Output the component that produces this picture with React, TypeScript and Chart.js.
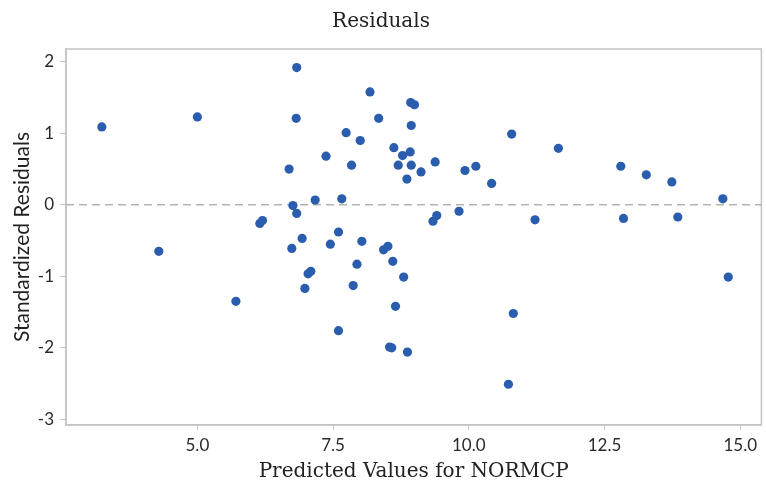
import React, { useEffect, useRef } from 'react';
import { Chart, registerables } from 'chart.js';

Chart.register(...registerables);

const predicted = [
  3.24, 5.0, 6.83, 6.82, 6.69, 6.76, 6.83, 6.15, 6.2, 8.18,
  8.93, 9.0, 8.34, 8.94, 7.74, 8.0, 7.37, 8.62, 8.78, 8.92,
  7.84, 8.7, 8.94, 9.38, 9.12, 8.86, 9.93, 10.13, 7.17, 7.66,
  9.34, 9.41, 9.82, 10.42, 10.79, 11.65, 12.8, 13.27, 13.74, 14.68,
  11.22, 12.85, 13.85, 4.29, 5.71, 6.74, 6.93, 7.6, 7.45, 8.03,
  8.43, 8.51, 8.6, 7.94, 8.8, 7.04, 7.09, 6.98, 7.87, 8.65,
  7.6, 8.54, 8.58, 8.87, 14.78, 10.82, 10.73,
];
const residuals = [
  1.09, 1.23, 1.92, 1.21, 0.5, -0.01, -0.12, -0.26, -0.22, 1.58,
  1.43, 1.4, 1.21, 1.11, 1.01, 0.9, 0.68, 0.8, 0.69, 0.74,
  0.555, 0.555, 0.555, 0.6, 0.46, 0.36, 0.48, 0.54, 0.066, 0.084,
  -0.23, -0.15, -0.09, 0.3, 0.99, 0.79, 0.54, 0.42, 0.32, 0.084,
  -0.21, -0.19, -0.17, -0.65, -1.35, -0.61, -0.47, -0.38, -0.55, -0.51,
  -0.63, -0.58, -0.79, -0.83, -1.01, -0.965, -0.93, -1.17, -1.13, -1.42,
  -1.76, -1.99, -2.0, -2.06, -1.01, -1.52, -2.51,
];
const xTicks = [5.0, 7.5, 10.0, 12.5, 15.0];
const yTicks = [-3, -2, -1, 0, 1, 2];

const SERIF = "'DejaVu Serif', 'Liberation Serif', serif";
const SANS = "Lato, 'Open Sans', sans-serif";

const framePlugin = {
  id: 'frameAndZero',
  beforeDatasetsDraw(chart: any) {
    const { ctx, chartArea, scales } = chart;
    const { left, right, top, bottom } = chartArea;
    ctx.save();
    ctx.strokeStyle = '#c4c4c4';
    ctx.lineWidth = 1.5;
    ctx.strokeRect(left, top, right - left, bottom - top);
    const y0 = scales.y.getPixelForValue(0);
    ctx.setLineDash([8, 5]);
    ctx.strokeStyle = '#b3b3b3';
    ctx.lineWidth = 1.5;
    ctx.beginPath();
    ctx.moveTo(left, y0);
    ctx.lineTo(right, y0);
    ctx.stroke();
    ctx.restore();
  },
};

export default function App() {
  const ref = useRef<HTMLCanvasElement | null>(null);

  useEffect(() => {
    document.body.style.margin = '0';
    if (!ref.current) return;
    const points = predicted.map((x, i) => ({ x, y: residuals[i] }));
    const chart = new Chart(ref.current, {
      type: 'scatter',
      data: {
        datasets: [
          {
            data: points,
            backgroundColor: '#2B5DAE',
            borderColor: '#2B5DAE',
            borderWidth: 0,
            pointRadius: 4.6,
            pointHoverRadius: 4.6,
          },
        ],
      },
      options: {
        animation: false,
        responsive: true,
        maintainAspectRatio: false,
        layout: { padding: { left: 0, right: 4, top: 0, bottom: 0 } },
        plugins: {
          legend: { display: false },
          tooltip: { enabled: false },
          title: {
            display: true,
            text: 'Residuals',
            color: '#222',
            font: { family: SERIF, size: 20, weight: 'normal' },
            padding: { top: 10, bottom: 15 },
          },
        },
        scales: {
          x: {
            type: 'linear',
            min: 2.58,
            max: 15.39,
            afterBuildTicks: (s: any) => {
              s.ticks = xTicks.map((v) => ({ value: v }));
            },
            afterFit: (s: any) => {
              s.height = 62;
            },
            grid: {
              drawOnChartArea: false,
              drawTicks: true,
              tickLength: 5,
              color: '#c4c4c4',
            },
            border: { display: true, color: '#c4c4c4', width: 1.5 },
            ticks: {
              padding: 5,
              color: '#2a2a2a',
              font: { family: SANS, size: 17 },
              callback: (v: any) => Number(v).toFixed(1),
            },
            title: {
              display: true,
              text: 'Predicted Values for NORMCP',
              color: '#222',
              font: { family: SERIF, size: 20 },
              padding: { top: 0, bottom: 3 },
            },
          },
          y: {
            type: 'linear',
            min: -3.08,
            max: 2.18,
            afterBuildTicks: (s: any) => {
              s.ticks = yTicks.map((v) => ({ value: v }));
            },
            afterFit: (s: any) => {
              s.width = 66;
            },
            grid: {
              drawOnChartArea: false,
              drawTicks: true,
              tickLength: 6,
              color: '#c4c4c4',
            },
            border: { display: true, color: '#c4c4c4', width: 1.5 },
            ticks: {
              padding: 6,
              color: '#2a2a2a',
              font: { family: SANS, size: 17 },
              callback: (v: any) => String(v),
            },
            title: {
              display: true,
              text: 'Standardized Residuals',
              color: '#222',
              font: { family: SANS, size: 21 },
              padding: { top: 10, bottom: 0 },
            },
          },
        },
      },
      plugins: [framePlugin],
    });
    return () => chart.destroy();
  }, []);

  return (
    <div style={{ position: 'relative', width: 766, height: 487 }}>
      <canvas ref={ref} />
    </div>
  );
}
